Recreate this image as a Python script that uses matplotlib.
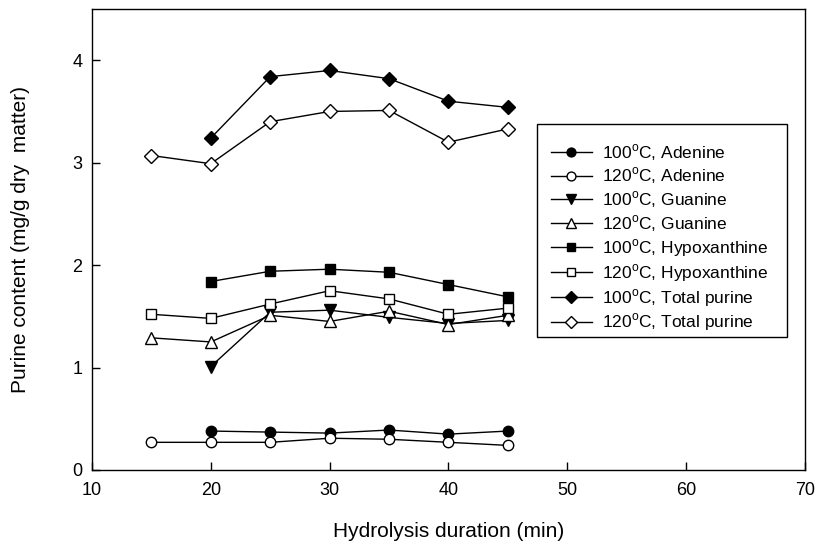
import matplotlib.pyplot as plt
from matplotlib.patches import Rectangle

plt.rcParams['font.family'] = ['Liberation Sans', 'DejaVu Sans']
plt.rcParams['mathtext.fontset'] = 'custom'
plt.rcParams['mathtext.rm'] = 'Liberation Sans'

# Data
t_15 = [15, 20, 25, 30, 35, 40, 45]
t_20 = [20, 25, 30, 35, 40, 45]
adenine_100 = [0.38, 0.37, 0.36, 0.39, 0.35, 0.38]
adenine_120 = [0.27, 0.27, 0.27, 0.31, 0.30, 0.27, 0.24]
guanine_100 = [1.01, 1.54, 1.56, 1.49, 1.43, 1.46]
guanine_120 = [1.29, 1.25, 1.51, 1.45, 1.55, 1.42, 1.51]
hypox_100 = [1.84, 1.94, 1.96, 1.93, 1.81, 1.69]
hypox_120 = [1.52, 1.48, 1.62, 1.75, 1.67, 1.52, 1.58]
total_100 = [3.24, 3.84, 3.90, 3.82, 3.60, 3.54]
total_120 = [3.07, 2.99, 3.40, 3.50, 3.51, 3.20, 3.33]

deg = r'$^\mathregular{o}$C'
series = [
    (t_20, adenine_100, 'o', 'black', '100' + deg + ', Adenine'),
    (t_15, adenine_120, 'o', 'white', '120' + deg + ', Adenine'),
    (t_20, guanine_100, 'v', 'black', '100' + deg + ', Guanine'),
    (t_15, guanine_120, '^', 'white', '120' + deg + ', Guanine'),
    (t_20, hypox_100, 's', 'black', '100' + deg + ', Hypoxanthine'),
    (t_15, hypox_120, 's', 'white', '120' + deg + ', Hypoxanthine'),
    (t_20, total_100, 'D', 'black', '100' + deg + ', Total purine'),
    (t_15, total_120, 'D', 'white', '120' + deg + ', Total purine'),
]

fig = plt.figure(figsize=(8.16, 5.47), dpi=100)
ax = fig.add_axes([0.1127, 0.1408, 0.8738, 0.8427])

for x, y, m, fc, lab in series:
    ms = {'o': 7.5, 'v': 8, '^': 8, 's': 7.5, 'D': 7}[m]
    ax.plot(x, y, color='black', lw=1, marker=m, markersize=ms,
            markerfacecolor=fc, markeredgecolor='black', markeredgewidth=1,
            label=lab)

ax.set_xlim(10, 70)
ax.set_ylim(0, 4.5)
ax.set_xticks([10, 20, 30, 40, 50, 60, 70])
ax.set_yticks([0, 1, 2, 3, 4])
ax.tick_params(direction='in', length=6, labelsize=13, width=1)
ax.tick_params(axis='x', pad=9)
ax.tick_params(axis='y', pad=7)
for s in ax.spines.values():
    s.set_linewidth(1)

ax.set_xlabel('Hydrolysis duration (min)', fontsize=15, labelpad=16)
ax.set_ylabel('Purine content (mg/g dry  matter)', fontsize=15, labelpad=30)

# legend box (frame drawn separately: more room above the first row)
ax.add_patch(Rectangle((0.624, 0.2885), 0.351, 0.462, transform=ax.transAxes,
                       facecolor='white', edgecolor='black', lw=1, zorder=4))
leg = ax.legend(loc='center left', bbox_to_anchor=(0.6438, 0.504), fontsize=12.5,
                frameon=False, handlelength=2.35, labelspacing=0.18,
                borderpad=0, handletextpad=0.6, borderaxespad=0,
                markerscale=0.85)
leg.set_zorder(5)

fig.savefig('out.png', dpi=100)
